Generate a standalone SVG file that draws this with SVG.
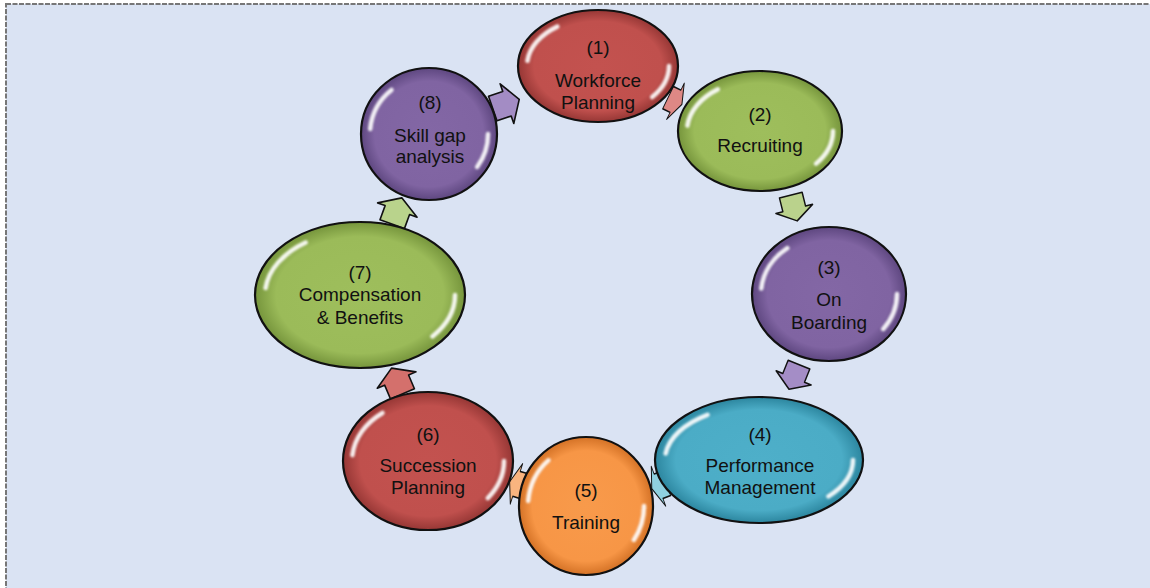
<svg xmlns="http://www.w3.org/2000/svg" width="1150" height="588" viewBox="0 0 1150 588">
  <defs>
    <style>
      .lbl { font-family: "Liberation Sans", Arial, sans-serif; font-size: 19px; fill: #111; text-anchor: middle; }
      .rim { stroke: #111; stroke-width: 2.2; }
      .shine { fill: none; stroke: #ffffff; stroke-width: 4.5; stroke-opacity: 0.9; stroke-linecap: round; stroke-dasharray: 9.7 41.7 12.5 36.1; filter: url(#soft); }
      .arr { stroke: #111; stroke-width: 1.6; stroke-linejoin: round; }
    </style>
    <filter id="soft" x="-20%" y="-20%" width="140%" height="140%">
      <feGaussianBlur stdDeviation="1.3"/>
    </filter>
    <radialGradient id="gRed" cx="50%" cy="50%" r="50%">
      <stop offset="0" stop-color="#C3524F"/>
      <stop offset="0.8" stop-color="#C0504D"/>
      <stop offset="1" stop-color="#963735"/>
    </radialGradient>
    <radialGradient id="gGreen" cx="50%" cy="50%" r="50%">
      <stop offset="0" stop-color="#9EBE5C"/>
      <stop offset="0.8" stop-color="#9BBB59"/>
      <stop offset="1" stop-color="#76953C"/>
    </radialGradient>
    <radialGradient id="gPurple" cx="50%" cy="50%" r="50%">
      <stop offset="0" stop-color="#8367A5"/>
      <stop offset="0.8" stop-color="#8064A2"/>
      <stop offset="1" stop-color="#5E4780"/>
    </radialGradient>
    <radialGradient id="gTeal" cx="50%" cy="50%" r="50%">
      <stop offset="0" stop-color="#4EAFC9"/>
      <stop offset="0.8" stop-color="#4BACC6"/>
      <stop offset="1" stop-color="#2C869F"/>
    </radialGradient>
    <radialGradient id="gOrange" cx="50%" cy="50%" r="50%">
      <stop offset="0" stop-color="#F89A4B"/>
      <stop offset="0.8" stop-color="#F79646"/>
      <stop offset="1" stop-color="#D47226"/>
    </radialGradient>
    <!-- block arrow pointing along +x, rotated into place -->
    <path id="blk" d="M-14,-13 L1,-13 L1,-21 L14,0 L1,21 L1,13 L-14,13 Z"/>
  </defs>

  <!-- page -->
  <rect x="0" y="0" width="1150" height="588" fill="#ffffff"/>
  <rect x="6" y="4" width="1160" height="600" fill="#DAE3F3" stroke="#777" stroke-width="2" stroke-dasharray="5 1.5"/>

  <!-- connectors -->
  <g id="connectors">
    <use href="#blk" class="arr" fill="#A38CC4" transform="translate(506,104) rotate(341)"/>
    <use href="#blk" class="arr" fill="#DE8885" transform="translate(675,101) rotate(26) scale(0.55,0.95)"/>
    <use href="#blk" class="arr" fill="#BAD28C" transform="translate(794,208) rotate(76) scale(0.95,0.9)"/>
    <use href="#blk" class="arr" fill="#A48DC6" transform="translate(794,377) rotate(112) scale(0.95,0.9)"/>
    <use href="#blk" class="arr" fill="#8FD0E0" transform="translate(659,486) rotate(160) scale(0.55,1)"/>
    <use href="#blk" class="arr" fill="#F9B47F" transform="translate(517,484) rotate(197) scale(0.55,1)"/>
    <use href="#blk" class="arr" fill="#D4706C" transform="translate(397,381) rotate(247)"/>
    <use href="#blk" class="arr" fill="#B9D38C" transform="translate(397,211) rotate(290)"/>
  </g>

  <!-- (1) Workforce Planning -->
  <g id="node1">
    <ellipse cx="598" cy="66" rx="80" ry="56" fill="url(#gRed)" class="rim"/>
    <ellipse cx="598" cy="66" rx="71" ry="48" pathLength="100" class="shine"/>
    <text class="lbl" x="598" y="54">(1)</text>
    <text class="lbl" x="598" y="87">Workforce</text>
    <text class="lbl" x="598" y="109">Planning</text>
  </g>

  <!-- (2) Recruiting -->
  <g id="node2">
    <ellipse cx="760" cy="131" rx="82" ry="60" fill="url(#gGreen)" class="rim"/>
    <ellipse cx="760" cy="131" rx="73" ry="51" pathLength="100" class="shine"/>
    <text class="lbl" x="760" y="121">(2)</text>
    <text class="lbl" x="760" y="152">Recruiting</text>
  </g>

  <!-- (3) On Boarding -->
  <g id="node3">
    <ellipse cx="829" cy="294" rx="77" ry="67" fill="url(#gPurple)" class="rim"/>
    <ellipse cx="829" cy="294" rx="68" ry="58" pathLength="100" class="shine"/>
    <text class="lbl" x="829" y="274">(3)</text>
    <text class="lbl" x="829" y="306">On</text>
    <text class="lbl" x="829" y="329">Boarding</text>
  </g>

  <!-- (4) Performance Management -->
  <g id="node4">
    <ellipse cx="759" cy="460" rx="104" ry="63" fill="url(#gTeal)" class="rim"/>
    <ellipse cx="759" cy="460" rx="94" ry="54" pathLength="100" class="shine"/>
    <text class="lbl" x="760" y="441">(4)</text>
    <text class="lbl" x="760" y="472">Performance</text>
    <text class="lbl" x="760" y="494">Management</text>
  </g>

  <!-- (5) Training -->
  <g id="node5">
    <ellipse cx="586" cy="506" rx="67" ry="69" fill="url(#gOrange)" class="rim"/>
    <ellipse cx="586" cy="506" rx="58" ry="60" pathLength="100" class="shine"/>
    <text class="lbl" x="586" y="497">(5)</text>
    <text class="lbl" x="586" y="529">Training</text>
  </g>

  <!-- (6) Succession Planning -->
  <g id="node6">
    <ellipse cx="428" cy="461" rx="85" ry="69" fill="url(#gRed)" class="rim"/>
    <ellipse cx="428" cy="461" rx="76" ry="60" pathLength="100" class="shine"/>
    <text class="lbl" x="428" y="441">(6)</text>
    <text class="lbl" x="428" y="472">Succession</text>
    <text class="lbl" x="428" y="494">Planning</text>
  </g>

  <!-- (7) Compensation & Benefits -->
  <g id="node7">
    <ellipse cx="360" cy="295" rx="105" ry="73" fill="url(#gGreen)" class="rim"/>
    <ellipse cx="360" cy="295" rx="95" ry="64" pathLength="100" class="shine"/>
    <text class="lbl" x="360" y="279">(7)</text>
    <text class="lbl" x="360" y="301">Compensation</text>
    <text class="lbl" x="360" y="324">&amp; Benefits</text>
  </g>

  <!-- (8) Skill gap analysis -->
  <g id="node8">
    <ellipse cx="429" cy="134" rx="68" ry="66" fill="url(#gPurple)" class="rim"/>
    <ellipse cx="429" cy="134" rx="59" ry="57" pathLength="100" class="shine"/>
    <text class="lbl" x="430" y="109">(8)</text>
    <text class="lbl" x="430" y="142">Skill gap</text>
    <text class="lbl" x="430" y="163">analysis</text>
  </g>
</svg>
